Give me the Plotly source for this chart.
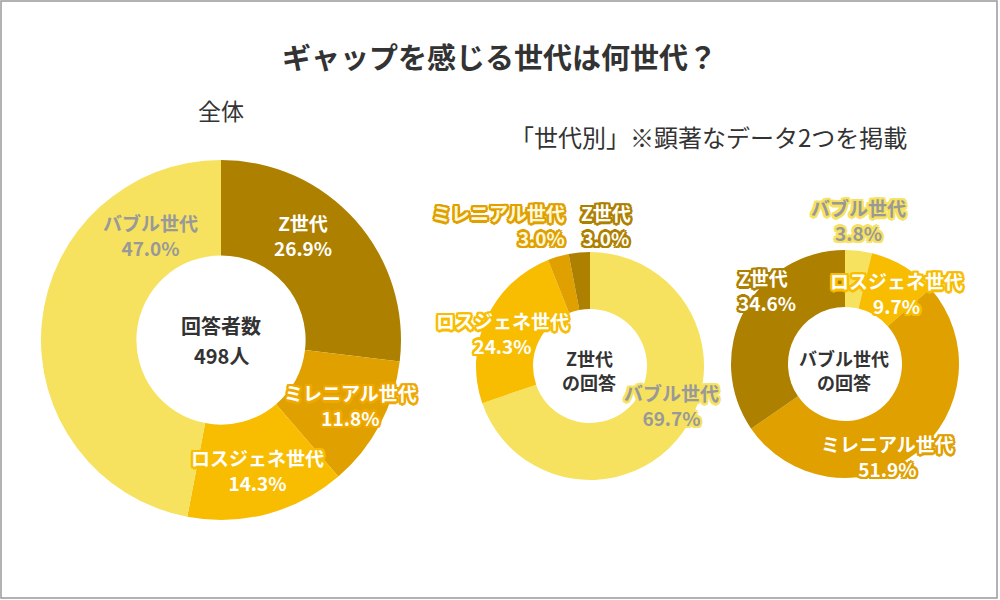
import plotly.graph_objects as go

# data
generations = ["Z世代", "ミレニアル世代", "ロスジェネ世代", "バブル世代"]
overall = [26.9, 11.8, 14.3, 47.0]
z_answers = [3.0, 3.0, 24.3, 69.7]
bubble_answers = [34.6, 51.9, 9.7, 3.8]
respondents = 498

colors = ["#AE8000", "#DFA000", "#F8BD00", "#F6E25E"]
W, H = 1000, 600
FONT = "Noto Sans CJK JP"


def px(x, y):
    # pixel position -> paper coords
    return x / W, 1 - y / H


def outline(c, w=2):
    pts = [(-w, -w), (w, -w), (-w, w), (w, w), (0, w), (w, 0), (0, -w), (-w, 0),
           (0, w + 0.5), (w + 0.5, 0), (0, -w - 0.5), (-w - 0.5, 0)]
    return ", ".join(f"{a}px {b}px 0 {c}" for a, b in pts)


fig = go.Figure()

# overall pie runs clockwise Z -> バブル, the per-generation pies run the other way round
pies = [
    (generations, overall, colors, (41, 401), (80, 440), 0.47),
    (generations[::-1], z_answers[::-1], colors[::-1], (476, 704), (120, 348), 0.5),
    (generations[::-1], bubble_answers[::-1], colors[::-1], (731, 959), (122, 350), 0.5),
]
for labs, vals, cols, dx, dy, hole in pies:
    fig.add_trace(go.Pie(
        labels=labs, values=vals, sort=False, direction="clockwise", rotation=0,
        hole=hole, textinfo="none", hoverinfo="label+percent",
        marker=dict(colors=cols, line=dict(width=0)),
        domain=dict(x=[dx[0] / W, dx[1] / W], y=[dy[0] / H, dy[1] / H]),
        showlegend=False,
    ))

# slice label positions (pixels), text colour, outline colour, alignment
label_style = [
    # overall
    [((303, 235), "white", None, "center"),
     ((350, 405), "white", "#EFA800", "center"),
     ((257, 470), "white", colors[2], "center"),
     ((150, 235), "#999999", None, "center")],
    # Z世代の回答
    [((606, 225), "white", colors[0], "center"),
     ((567, 225), "#FFF8DC", colors[1], "right"),
     ((502, 333), "white", colors[2], "center"),
     ((671, 405), "#999999", colors[3], "center")],
    # バブル世代の回答
    [((736, 290), "white", colors[0], "left"),
     ((887, 456), "white", colors[1], "center"),
     ((896, 293), "white", colors[2], "center"),
     ((858, 220), "#999999", colors[3], "center")],
]

annotations = []
for vals, styles in zip([overall, z_answers, bubble_answers], label_style):
    for name, v, ((x, y), fc, oc, al) in zip(generations, vals, styles):
        ax, ay = px(x, y)
        annotations.append(dict(
            x=ax, y=ay, xref="paper", yref="paper", xanchor=al, yanchor="middle",
            text=f"{name}<br>{v:.1f}%", showarrow=False, align=al,
            font=dict(family=FONT, size=19, color=fc, weight="bold",
                      shadow=outline(oc) if oc else "none"),
        ))

# centre texts, one annotation per line
centre = [
    (221, 20, [(325, "回答者数"), (355, f"{respondents}人")]),
    (589, 18, [(358, "Z世代"), (382, "の回答")]),
    (844, 18, [(358, "バブル世代"), (382, "の回答")]),
]
for x, size, lines in centre:
    for y, txt in lines:
        ax, ay = px(x, y)
        annotations.append(dict(x=ax, y=ay, xref="paper", yref="paper", showarrow=False,
                                xanchor="center", yanchor="middle", text=txt,
                                font=dict(family=FONT, size=size, color="#333333", weight="bold")))

# headings
for (x, y), txt, size, wt, xa in [((499, 56), "ギャップを感じる世代は何世代？", 29, "bold", "center"),
                                  ((221, 110), "全体", 23, "normal", "center"),
                                  ((508, 136), "「世代別」※顕著なデータ2つを掲載", 24, "normal", "left")]:
    ax, ay = px(x, y)
    annotations.append(dict(x=ax, y=ay, xref="paper", yref="paper", showarrow=False,
                            xanchor=xa, yanchor="middle", text=txt,
                            font=dict(family=FONT, size=size, color="#333333", weight=wt)))

fig.update_layout(
    width=W, height=H,
    margin=dict(l=0, r=0, t=0, b=0),
    paper_bgcolor="white", plot_bgcolor="white",
    annotations=annotations,
    shapes=[dict(type="rect", xref="paper", yref="paper",
                 x0=1 / W, x1=997 / W, y0=1 - 598 / H, y1=1 - 1 / H,
                 line=dict(color="#999999", width=1.5))],
)

fig.write_html("out.html", config={"displayModeBar": False},
               post_script="document.body.style.margin='0';")
